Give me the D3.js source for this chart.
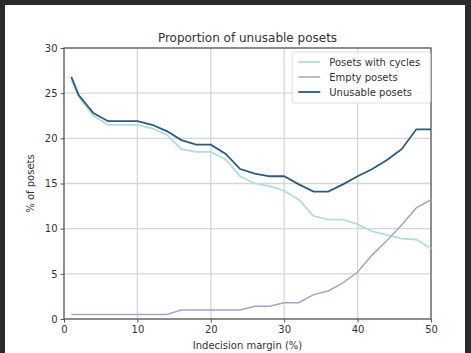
<!DOCTYPE html>
<html>
<head>
<meta charset="utf-8">
<script src="https://cdn.jsdelivr.net/npm/d3@7"></script>
<style>
  body { margin: 0; background: #2b2b2b; }
  svg { display: block; }
  text { font-family: "DejaVu Sans", sans-serif; fill: #333; }
</style>
</head>
<body>
<div id="chart"></div>
<script>
// data
const margins = [1, 2, 4, 6, 8, 10, 12, 14, 16, 18, 20, 22, 24, 26, 28, 30, 32, 34, 36, 38, 40, 42, 44, 46, 48, 50];
const cycles = [26.5, 24.6, 22.5, 21.5, 21.5, 21.5, 21.1, 20.4, 18.8, 18.5, 18.5, 17.7, 15.8, 15.0, 14.7, 14.2, 13.2, 11.4, 11.0, 11.0, 10.5, 9.7, 9.3, 8.9, 8.8, 7.8];
const empty = [0.5, 0.5, 0.5, 0.5, 0.5, 0.5, 0.5, 0.5, 1.0, 1.0, 1.0, 1.0, 1.0, 1.4, 1.4, 1.8, 1.8, 2.7, 3.1, 4.0, 5.2, 7.1, 8.7, 10.4, 12.3, 13.2];
const unusable = [26.8, 24.8, 22.8, 21.9, 21.9, 21.9, 21.5, 20.8, 19.8, 19.3, 19.3, 18.3, 16.6, 16.1, 15.8, 15.8, 14.9, 14.1, 14.1, 14.9, 15.8, 16.6, 17.6, 18.8, 21.0, 21.0];
const seriesNames = ["Posets with cycles", "Empty posets", "Unusable posets"];
const seriesColors = ["#b2dde0", "#a7a3c9", "#2b5b7c"];
const xTicks = [0, 10, 20, 30, 40, 50];
const yTicks = [0, 5, 10, 15, 20, 25, 30];

const W = 471, H = 353;
const margin = {top: 48, right: 40, bottom: 34, left: 64};
const width = 431 - margin.left, height = 319 - margin.top;

const svg = d3.select("#chart").append("svg")
  .attr("width", W).attr("height", H);

// white page inside the dark frame
svg.append("rect").attr("x", 5).attr("y", 5)
  .attr("width", 460).attr("height", H - 5).attr("fill", "#fff");

const g = svg.append("g").attr("transform", `translate(${margin.left},${margin.top})`);

const x = d3.scaleLinear().domain([0, 50]).range([0, width]);
const y = d3.scaleLinear().domain([0, 30]).range([height, 0]);

// grid
g.append("g").selectAll("line").data(xTicks).join("line")
  .attr("x1", d => x(d)).attr("x2", d => x(d))
  .attr("y1", 0).attr("y2", height)
  .attr("stroke", "#d6d6d6").attr("stroke-width", 1.3);
g.append("g").selectAll("line").data(yTicks).join("line")
  .attr("x1", 0).attr("x2", width)
  .attr("y1", d => y(d)).attr("y2", d => y(d))
  .attr("stroke", "#d6d6d6").attr("stroke-width", 1.3);

// axes
const xAxis = g.append("g").attr("transform", `translate(0,${height})`)
  .call(d3.axisBottom(x).tickValues(xTicks).tickSize(3.5).tickPadding(3));
const yAxis = g.append("g")
  .call(d3.axisLeft(y).tickValues(yTicks).tickSize(3.5).tickPadding(3));
[xAxis, yAxis].forEach(a => {
  a.select(".domain").remove();
  a.selectAll("line").attr("stroke", "#555");
  a.selectAll("text").style("font-size", "10px").attr("fill", "#333");
});

// frame
g.append("rect").attr("width", width).attr("height", height)
  .attr("fill", "none").attr("stroke", "#555").attr("stroke-width", 1.2);

// lines
const line = d3.line().x((d, i) => x(margins[i])).y(d => y(d));
const allSeries = [cycles, empty, unusable];
const widths = [1.8, 1.5, 1.8];
allSeries.forEach((s, k) => {
  g.append("path").datum(s)
    .attr("d", line)
    .attr("fill", "none")
    .attr("stroke", seriesColors[k])
    .attr("stroke-width", widths[k]);
});

// legend
const leg = g.append("g").attr("transform", `translate(${x(31.1)},${4})`);
leg.append("rect").attr("width", 138).attr("height", 51)
  .attr("fill", "#fff").attr("fill-opacity", 0.8)
  .attr("stroke", "#ddd").attr("rx", 2);
seriesNames.forEach((n, k) => {
  const row = leg.append("g").attr("transform", `translate(6,${10 + k * 15})`);
  row.append("line").attr("x1", 0).attr("x2", 22)
    .attr("stroke", seriesColors[k]).attr("stroke-width", widths[k]);
  row.append("text").attr("x", 31).attr("dy", "0.35em")
    .style("font-size", "10px").text(n);
});

// title and labels
svg.append("text").attr("x", x(25) + margin.left).attr("y", 42)
  .attr("text-anchor", "middle").style("font-size", "12px")
  .text("Proportion of unusable posets");
svg.append("text").attr("x", x(25) + margin.left).attr("y", 349)
  .attr("text-anchor", "middle").style("font-size", "10px")
  .text("Indecision margin (%)");
svg.append("text")
  .attr("transform", `translate(34,${margin.top + height / 2}) rotate(-90)`)
  .attr("text-anchor", "middle").style("font-size", "10px")
  .text("% of posets");
</script>
</body>
</html>
